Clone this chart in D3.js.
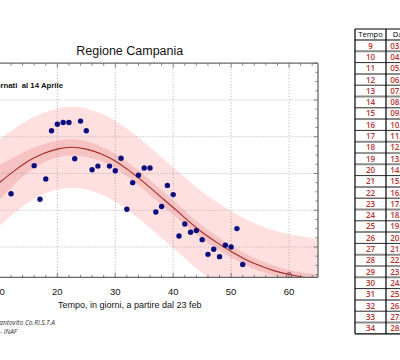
<!DOCTYPE html>
<html><head><meta charset="utf-8">
<script src="https://cdn.jsdelivr.net/npm/d3@7"></script>
<style>body{margin:0;background:#fff}svg{display:block}</style>
</head><body>
<script>
// ---- data ----
const days = [12,16,17,18,19,20,21,22,23,24,25,26,27,29,30,31,32,33,34,35,36,37,38,39,40,41,42,43,44,45,46,47,48,49,50,51,52];
const values = [98,128.5,92,114,166.5,173.5,175.5,175.5,136,177,166.5,124,128,128,123,136.5,81,110,118,126,126,78,84,107,97,52,65,56,58,48,32,37.5,29.5,42,40,60,21];
const fitT = [0,2.5,5,7.5,10,12.5,15,17.5,20,22.5,25,27.5,30,32.5,35,37.5,40,42.5,45,47.5,50,52.5,55,57.5,60,62.5,65];
const fitY = [56,69,83,96.5,110,122.5,133.5,141.5,146.5,148.5,146.5,141.5,133.5,122.5,110,96.5,83,69,56,45,35,26.5,19.5,14,10,7,4.7];
const innerHalf = [35,31,27,23,19,15,12,10,9,9,8.5,8,8,8,8,8,8,7.5,7,7,6.5,6,6,5.5,5,5,5];
const outerHalf = [52,51,50,49,47,46,45,44,44,44,44,44,44,44,44,44,44,44,44,44,44,44,44,44,44,44,44];
const markerT = 60, markerY = 9;
const xTicks = [10,20,30,40,50,60];
const yTicks = [40,80,120,160,200,240];
const tempoCol = ["9","10","11","12","13","14","15","16","17","18","19","20","21","22","23","24","25","26","27","28","29","30","31","32","33","34"];
const dateCol = ["03/03","04/03","05/03","06/03","07/03","08/03","09/03","10/03","11/03","12/03","13/03","14/03","15/03","16/03","17/03","18/03","19/03","20/03","21/03","22/03","23/03","24/03","25/03","26/03","27/03","28/03"];

const svg = d3.select("body").append("svg").attr("width",400).attr("height",360);
svg.append("rect").attr("width",400).attr("height",360).attr("fill","#fff");

const x = d3.scaleLinear().domain([0,65]).range([-58.5,318]);
const y = d3.scaleLinear().domain([7,240]).range([277.3,63.2]);
const font = "'Liberation Sans', Arial, sans-serif";

svg.append("defs").append("clipPath").attr("id","pc").append("rect")
  .attr("x",x(0)).attr("y",y(240)).attr("width",x(65)-x(0)).attr("height",y(7)-y(240));
const g = svg.append("g").attr("clip-path","url(#pc)");

const fit = fitT.map((t,i)=>({t, v:fitY[i], ih:innerHalf[i], oh:outerHalf[i]}));
g.append("path").datum(fit).attr("fill","#fde0df")
  .attr("d", d3.area().x(d=>x(d.t)).y0(d=>y(d.v-d.oh)).y1(d=>y(d.v+d.oh)).curve(d3.curveMonotoneX));
g.append("path").datum(fit).attr("fill","#f7c3c2")
  .attr("d", d3.area().x(d=>x(d.t)).y0(d=>y(d.v-d.ih)).y1(d=>y(d.v+d.ih)).curve(d3.curveMonotoneX));

// grid
g.selectAll(".gx").data(xTicks).enter().append("line")
  .attr("x1",d=>x(d)).attr("x2",d=>x(d)).attr("y1",y(240)).attr("y2",y(7))
  .attr("stroke","#9a9a9a").attr("stroke-width",0.8).attr("stroke-dasharray","1,2");
g.selectAll(".gy").data(yTicks.slice(0,-1)).enter().append("line")
  .attr("y1",d=>y(d)).attr("y2",d=>y(d)).attr("x1",x(0)).attr("x2",x(65))
  .attr("stroke","#9a9a9a").attr("stroke-width",0.8).attr("stroke-dasharray","1,2");

g.append("path").datum(fit).attr("fill","none").attr("stroke","#a52a2a").attr("stroke-width",1.1)
  .attr("d", d3.line().x(d=>x(d.t)).y(d=>y(d.v)).curve(d3.curveMonotoneX));

g.selectAll(".pt").data(days.map((d,i)=>[d,values[i]])).enter().append("circle")
  .attr("cx",d=>x(d[0])).attr("cy",d=>y(d[1])).attr("r",2.7).attr("fill","#0c0c80");

g.append("circle").attr("cx",x(markerT)).attr("cy",y(markerY)).attr("r",2.8)
  .attr("fill","none").attr("stroke","#8b3a3a").attr("stroke-width",0.9);

// axes / box
const ax = svg.append("g");
const axCol = "#666";
ax.append("line").attr("x1",x(0)).attr("x2",x(65)).attr("y1",y(240)).attr("y2",y(240)).attr("stroke",axCol).attr("stroke-width",1.3);
ax.append("line").attr("x1",x(0)).attr("x2",x(65)).attr("y1",y(7)).attr("y2",y(7)).attr("stroke",axCol).attr("stroke-width",1.3);
ax.append("line").attr("x1",x(65)).attr("x2",x(65)).attr("y1",y(240)).attr("y2",y(7)).attr("stroke",axCol).attr("stroke-width",1.3);
const xMinor = x.ticks(32).filter(t=>t%2===0);
xMinor.forEach(t=>{
  const L = (t%10===0)?4.5:2.5;
  ax.append("line").attr("x1",x(t)).attr("x2",x(t)).attr("y1",y(7)).attr("y2",y(7)-L).attr("stroke",axCol).attr("stroke-width",0.8);
  ax.append("line").attr("x1",x(t)).attr("x2",x(t)).attr("y1",y(240)).attr("y2",y(240)+L).attr("stroke",axCol).attr("stroke-width",0.8);
});
const yMinor = y.ticks(30).filter(t=>t%10===0 && t>=10);
yMinor.forEach(t=>{
  const L = (t%40===0)?4.5:2.5;
  ax.append("line").attr("x1",x(65)).attr("x2",x(65)-L).attr("y1",y(t)).attr("y2",y(t)).attr("stroke",axCol).attr("stroke-width",0.8);
});
ax.selectAll(".xl").data(xTicks).enter().append("text")
  .attr("x",d=>x(d)).attr("y",295).attr("text-anchor","middle")
  .attr("font-family",font).attr("font-size",9.5).attr("fill","#111").text(d=>d);

const cx = (x(0)+x(65))/2;
svg.append("text").attr("x",cx).attr("y",308).attr("text-anchor","middle")
  .attr("font-family",font).attr("font-size",9).attr("fill","#111").text("Tempo, in giorni, a partire dal 23 feb");
svg.append("text").attr("x",cx).attr("y",55).attr("text-anchor","middle")
  .attr("font-family",font).attr("font-size",12.5).attr("fill","#111").text("Regione Campania");
svg.append("text").attr("x",63).attr("y",88).attr("text-anchor","end")
  .attr("font-family",font).attr("font-weight","bold").attr("font-size",7.8).attr("fill","#111")
  .attr("xml:space","preserve").text("Dati aggiornati  al 14 Aprile");
svg.append("text").attr("x",55).attr("y",325).attr("text-anchor","end")
  .attr("font-family","'Open Sans', sans-serif").attr("font-style","italic").attr("font-size",6.6).attr("fill","#333")
  .text("Elaborazione: M. R. Santovito Co.RI.S.T.A");
svg.append("text").attr("x",17).attr("y",334).attr("text-anchor","end")
  .attr("font-family","'Open Sans', sans-serif").attr("font-style","italic").attr("font-size",6.6).attr("fill","#333")
  .text("G. Covone UNINA - INAF");

// table
const tb = svg.append("g");
const tx0 = 355, tx1 = 386, tx2 = 416, ty0 = 29, hh = 11, rh = 11.3;
tb.append("text").attr("x",(tx0+tx1)/2).attr("y",ty0+8.3).attr("text-anchor","middle")
  .attr("font-family","'Open Sans', sans-serif").attr("font-size",7.5).attr("fill","#000").text("Tempo");
tb.append("text").attr("x",(tx1+tx2)/2).attr("y",ty0+8.3).attr("text-anchor","middle")
  .attr("font-family","'Open Sans', sans-serif").attr("font-size",7.5).attr("fill","#000").text("Data");
tempoCol.forEach((t,i)=>{
  const yy = ty0+hh+i*rh;
  tb.append("text").attr("x",(tx0+tx1)/2).attr("y",yy+8.6).attr("text-anchor","middle")
    .attr("font-family","'Open Sans', sans-serif").attr("font-weight",600).attr("font-size",8).attr("fill","#b8312f").text(t);
  tb.append("text").attr("x",(tx1+tx2)/2).attr("y",yy+8.6).attr("text-anchor","middle")
    .attr("font-family","'Open Sans', sans-serif").attr("font-weight",600).attr("font-size",8).attr("fill","#b8312f").text(dateCol[i]);
  if(i>0){
    const gray = i%2===1;
    tb.append("line").attr("x1",tx0).attr("x2",tx2).attr("y1",yy).attr("y2",yy)
      .attr("stroke",gray?"#8a8a8a":"#111").attr("stroke-width",gray?2:0.9);
  }
});
const tyEnd = ty0+hh+tempoCol.length*rh;
[ty0, ty0+hh, tyEnd].forEach(yy=>tb.append("line").attr("x1",tx0).attr("x2",tx2).attr("y1",yy).attr("y2",yy).attr("stroke","#000").attr("stroke-width",1.2));
[tx0,tx1].forEach(xx=>tb.append("line").attr("x1",xx).attr("x2",xx).attr("y1",ty0).attr("y2",tyEnd).attr("stroke","#000").attr("stroke-width",1.2));
</script>
</body></html>
